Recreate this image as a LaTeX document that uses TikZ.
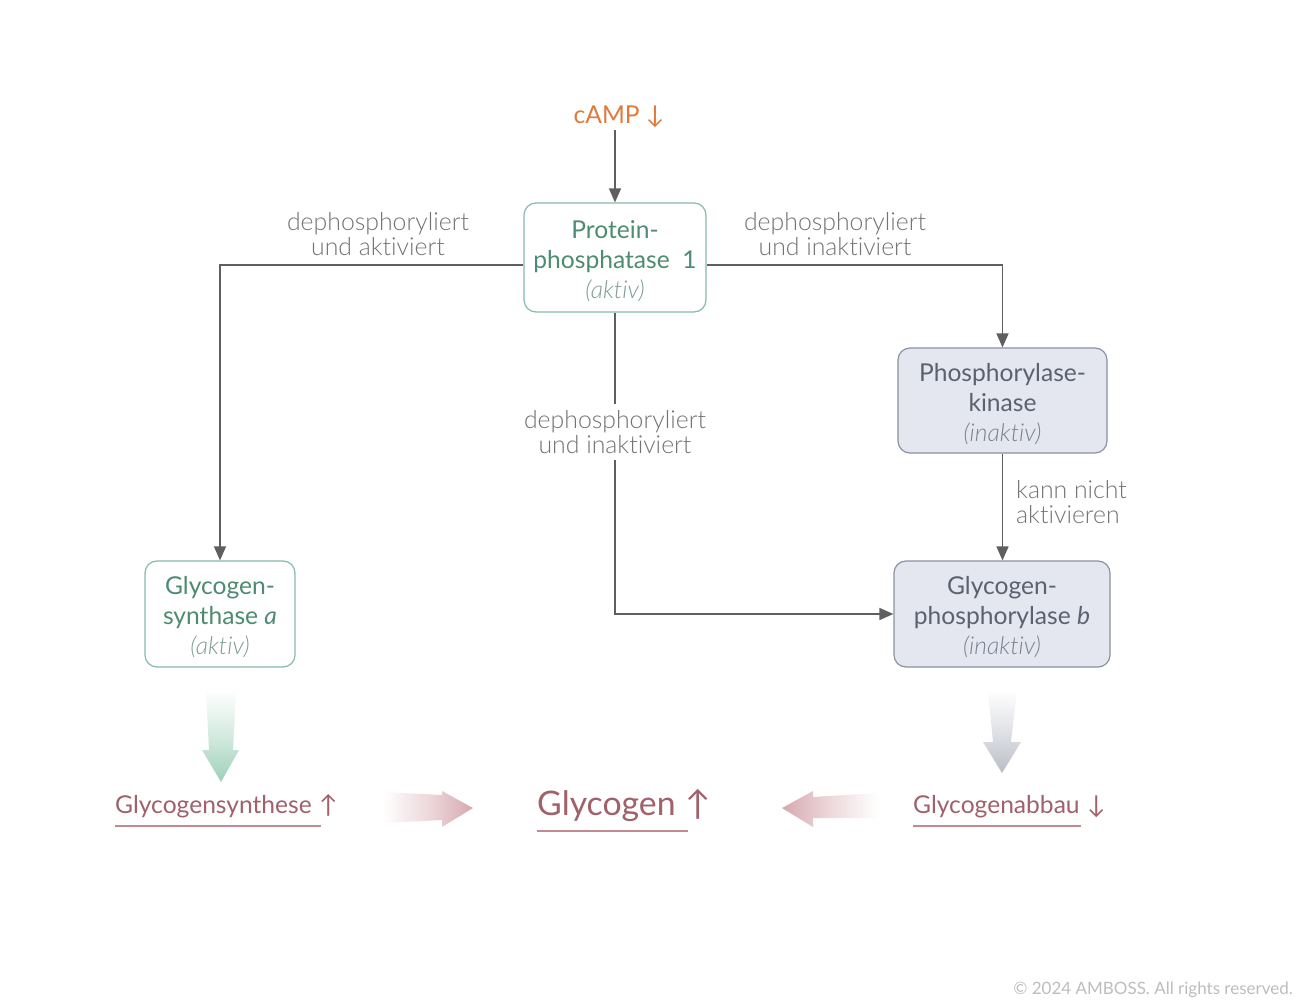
\documentclass[tikz,border=0pt]{standalone}
\usepackage{fontspec}
\setmainfont{Lato}[Ligatures=NoCommon]
\newfontfamily\lightfont{Lato Light}[Ligatures=NoCommon]
\usetikzlibrary{arrows.meta}
\definecolor{grntxt}{HTML}{4D8B72}
\definecolor{grnlt}{HTML}{7E9D92}
\definecolor{grnbd}{HTML}{86BBA5}
\definecolor{bltxt}{HTML}{5C6170}
\definecolor{bllt}{HTML}{7D8190}
\definecolor{blbd}{HTML}{8C91A2}
\definecolor{blfill}{HTML}{E4E7F0}
\definecolor{conncol}{HTML}{5F5F5F}
\definecolor{lblcol}{HTML}{737373}
\definecolor{orng}{HTML}{E07A3C}
\definecolor{redtxt}{HTML}{A0616B}
\definecolor{redline}{HTML}{C28A90}
\definecolor{fatgreen}{HTML}{9DD0B9}
\definecolor{fatgray}{HTML}{B9BDC6}
\definecolor{fatred}{HTML}{D6A9AE}
\definecolor{copycol}{HTML}{BDBDBD}
\tikzset{
  boxbase/.style={draw, rounded corners=12pt, line width=1.2pt, align=center,
    font=\fontsize{24.6}{30}\selectfont, inner sep=0pt},
  gbox/.style={boxbase, draw=grnbd, fill=white, text=grntxt},
  bbox/.style={boxbase, draw=blbd, fill=blfill, text=bltxt},
  conn/.style={draw=conncol, line width=1.5pt, -{Triangle[length=14pt,width=12pt]}},
  lbl/.style={align=center, text=lblcol, font=\lightfont\fontsize{24.8}{25}\selectfont, inner sep=2pt},
  redword/.style={text=redtxt, inner sep=0pt, font=\fontsize{24.6}{28}\selectfont},
  bigword/.style={text=redtxt, inner sep=0pt, font=\fontsize{33.8}{38}\selectfont},
  uline/.style={draw=redline, line width=1.2pt}
}
\newcommand{\gsub}[1]{{\lightfont\itshape\color{grnlt}#1}}
\newcommand{\bsub}[1]{{\lightfont\itshape\color{bllt}#1}}
\newcommand{\tstrut}{\rule{0pt}{25pt}}
\begin{document}
\begin{tikzpicture}[x=1pt,y=-1pt]
\useasboundingbox[fill=white] (0,0) rectangle (1299,1000);
\coordinate (hl) at (0,265);

% nodes
\node[text=orng, font=\fontsize{24.6}{28}\selectfont, inner sep=2pt] (camp) at (619,117) {cAMP ↓};
\node[gbox, minimum width=182pt, minimum height=109pt] (pp) at (615,257.5)
  {\tstrut Protein-\\phosphatase\ \ 1\\\gsub{(aktiv)}};
\node[bbox, minimum width=209pt, minimum height=105pt] (pk) at (1002.5,400.5)
  {\tstrut Phosphorylase-\\kinase\\\bsub{(inaktiv)}};
\node[bbox, minimum width=216pt, minimum height=106pt] (gp) at (1002,614)
  {\tstrut Glycogen-\\phosphorylase \textit{b}\\\bsub{(inaktiv)}};
\node[gbox, minimum width=150pt, minimum height=106pt] (gs) at (220,614)
  {\tstrut Glycogen-\\synthase \textit{a}\\\gsub{(aktiv)}};

% connectors
\draw[conn] (camp.south -| pp.north) -- (pp.north);
\draw[conn] (pp.west |- hl) -| (gs.north);
\draw[conn] (pp.east |- hl) -| (pk.north);
\draw[conn] (pp.south) |- (gp.west);
\draw[conn] (pk.south) -- (pk.south |- gp.north);

% labels
\node[lbl] (l1) at (378,234) {dephosphoryliert\\und aktiviert};
\node[lbl] (l2) at (835,234) {dephosphoryliert\\und inaktiviert};
\node[lbl, fill=white, inner ysep=6pt] (l3) at (615,432) {dephosphoryliert\\und inaktiviert};
\node[lbl, align=left, anchor=west] (l4) at (1014,502) {kann nicht\\aktivieren};

% fat arrows
\shade[top color=white, bottom color=fatgreen, middle color=fatgreen!45]
  (206,690) -- (236,690) -- (233,750) -- (239,750) -- (221,782) -- (202,750) -- (209,750) -- cycle;
\shade[top color=white, bottom color=fatgray, middle color=fatgray!45]
  (988,690) -- (1017,690) -- (1011,742) -- (1021,742) -- (1002,773) -- (983,742) -- (993,742) -- cycle;
\shade[left color=white, right color=fatred, middle color=fatred!45]
  (383,792) -- (442,795) -- (442,791) -- (473,808) -- (442,827) -- (442,820) -- (383,823) -- cycle;
\shade[right color=white, left color=fatred, middle color=fatred!45]
  (878,793) -- (813,797) -- (813,791) -- (782,808) -- (813,827) -- (813,818) -- (878,818) -- cycle;

% bottom words
\node[redword, anchor=base west] (wsyn) at (115,813) {Glycogensynthese};
\node[redword, anchor=base west] (asyn) at ([xshift=7pt]wsyn.base east) {↑};
\draw[uline] (wsyn.west |- 0,826) -- ([xshift=9pt]wsyn.east |- 0,826);

\node[bigword, anchor=base west] (wgly) at (537,815) {Glycogen};
\node[bigword, anchor=base west] (agly) at ([xshift=9pt]wgly.base east) {↑};
\draw[uline] (wgly.west |- 0,831) -- ([xshift=12pt]wgly.east |- 0,831);

\node[redword, anchor=base west] (wab) at (913,813) {Glycogenabbau};
\node[redword, anchor=base west] (aab) at ([xshift=7pt]wab.base east) {↓};
\draw[uline] (wab.west |- 0,826) -- ([xshift=1pt]wab.east |- 0,826);

% copyright
\node[text=copycol, font=\fontsize{17}{20}\selectfont, anchor=base east, inner sep=0pt] (copy) at (1293,994) {© 2024 AMBOSS. All rights reserved.};
\end{tikzpicture}
\end{document}
